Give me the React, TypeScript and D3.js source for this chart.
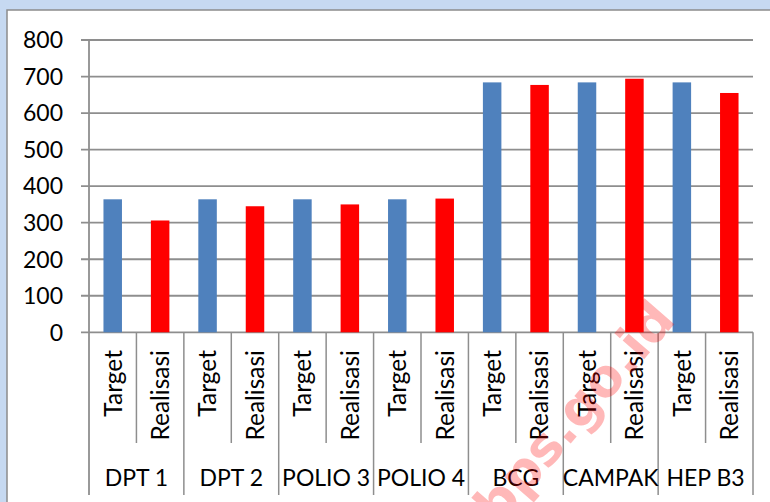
import React from "react";
import * as d3 from "d3";

const groups = ["DPT 1", "DPT 2", "POLIO 3", "POLIO 4", "BCG", "CAMPAK", "HEP B3"];
const seriesNames = ["Target", "Realisasi"];
const targetValues = [364, 364, 364, 364, 684, 684, 684];
const realisasiValues = [306, 345, 350, 366, 677, 694, 655];
const yTicks = [0, 100, 200, 300, 400, 500, 600, 700, 800];
const colors = ["#4f81bd", "#ff0000"];

const W = 770;
const H = 502;
const FONT = "Lato, 'Open Sans', sans-serif";

export default function App() {
  const x0 = 89;
  const x1 = 753;
  const yBase = 332.3;
  const yTop = 40;

  const slots = groups.flatMap((g, gi) =>
    seriesNames.map((s, si) => ({
      key: `${gi}-${si}`,
      group: g,
      gi,
      si,
      name: s,
      value: si === 0 ? targetValues[gi] : realisasiValues[gi],
    }))
  );

  const x = d3
    .scaleBand<string>()
    .domain(slots.map((d) => d.key))
    .range([x0, x1])
    .paddingInner(0)
    .paddingOuter(0);
  const bw = x.bandwidth();
  const barW = bw * 0.39;

  const y = d3.scaleLinear().domain([0, 800]).range([yBase, yTop]);

  const gridColor = "#8e8e8e";
  const groupW = bw * 2;

  return (
    <svg
      width={W}
      height={H}
      style={{ position: "fixed", left: 0, top: 0, display: "block" }}
    >
      <rect x={0} y={0} width={W} height={H} fill="#c6d9f1" />
      <rect x={7} y={10} width={820} height={600} fill="#ffffff" stroke="#8c8c8c" strokeWidth={1.5} />

      {/* gridlines and y ticks */}
      {yTicks.map((t) => (
        <g key={t}>
          <line x1={81} x2={x1} y1={y(t)} y2={y(t)} stroke={gridColor} strokeWidth={1.8} />
          <text
            x={63}
            y={y(t)}
            dy="0.36em"
            textAnchor="end"
            fontFamily={FONT}
            fontSize={23}
            fill="#000"
          >
            {t}
          </text>
        </g>
      ))}

      {/* bars */}
      {slots.map((d) => (
        <rect
          key={d.key}
          x={(x(d.key) as number) + (bw - barW) / 2}
          y={y(d.value)}
          width={barW}
          height={y(0) - y(d.value)}
          fill={colors[d.si]}
        />
      ))}

      {/* y axis line extended down */}
      <line x1={x0} x2={x0} y1={y(800)} y2={495} stroke={gridColor} strokeWidth={1.8} />

      {/* inner dividers */}
      {slots
        .filter((d) => d.si === 1)
        .map((d) => (
          <line
            key={"in" + d.key}
            x1={x(d.key) as number}
            x2={x(d.key) as number}
            y1={yBase}
            y2={443}
            stroke={gridColor}
            strokeWidth={1.5}
          />
        ))}

      {/* group dividers */}
      {groups.map((g, gi) => {
        const gx = x0 + groupW * (gi + 1);
        return (
          <line key={"gd" + g} x1={gx} x2={gx} y1={yBase} y2={495} stroke={gridColor} strokeWidth={1.5} />
        );
      })}

      {/* rotated series labels */}
      {slots.map((d) => {
        const cx = (x(d.key) as number) + bw / 2;
        return (
          <text
            key={"lab" + d.key}
            transform={`translate(${cx},350) rotate(-90)`}
            dy="0.36em"
            textAnchor="end"
            fontFamily={FONT}
            fontSize={24.5}
            fill="#000"
          >
            {d.name}
          </text>
        );
      })}

      {/* group labels */}
      {groups.map((g, gi) => (
        <text
          key={"gl" + g}
          x={x0 + groupW * gi + groupW / 2}
          y={486}
          textAnchor="middle"
          fontFamily={FONT}
          fontSize={23}
          fill="#000"
        >
          {g}
        </text>
      ))}

      {/* watermark */}
      <text
        transform="translate(574,412) rotate(-49)"
        textAnchor="middle"
        dy="0.35em"
        fontFamily="'DejaVu Sans', sans-serif"
        fontWeight="bold"
        fontSize={52}
        fill="#ff0000"
        fillOpacity={0.28}
      >
        bps.go.id
      </text>
    </svg>
  );
}
